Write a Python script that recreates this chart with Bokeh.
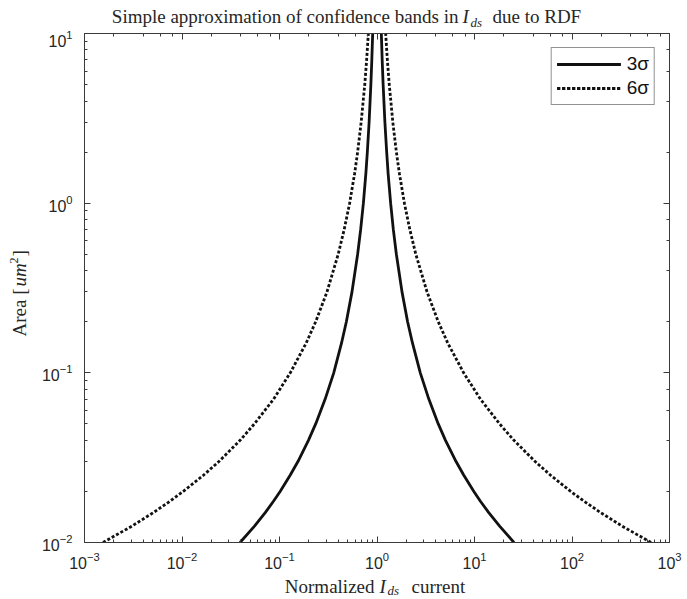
import math
from bokeh.plotting import figure
from bokeh.models import (LogAxis, Label, Legend, LegendItem, CustomJSTickFormatter,
                          Range1d, LogTicker)
from bokeh.layouts import column, row
from bokeh.embed import file_html
from bokeh.resources import INLINE

# ---- data ----
area = [0.01, 0.0125, 0.015, 0.0175, 0.02, 0.025, 0.03, 0.04, 0.05, 0.07, 0.1,
        0.15, 0.2, 0.3, 0.5, 0.7, 1.0, 1.5, 2.0, 3.0, 5.0, 7.0, 10.0]
ids_3s_high = [25.4, 18.1, 14.0, 11.5, 9.85, 7.74, 6.47, 5.04, 4.25, 3.40, 2.78,
               2.31, 2.06, 1.805, 1.58, 1.47, 1.38, 1.30, 1.257, 1.205, 1.156, 1.130, 1.108]
ids_3s_low = [0.0394, 0.0554, 0.0714, 0.0867, 0.1015, 0.129, 0.1546, 0.198, 0.235, 0.294, 0.360,
              0.433, 0.485, 0.554, 0.633, 0.680, 0.725, 0.769, 0.796, 0.830, 0.865, 0.885, 0.903]
ids_6s_high = [646, 326, 197, 133, 97.0, 59.9, 41.9, 25.4, 18.1, 11.5, 7.74,
               5.31, 4.25, 3.26, 2.50, 2.17, 1.91, 1.696, 1.58, 1.453, 1.336, 1.277, 1.227]
ids_6s_low = [0.00155, 0.00307, 0.00508, 0.00752, 0.0103, 0.0167, 0.0239, 0.0394, 0.0552, 0.0870, 0.129,
              0.188, 0.235, 0.307, 0.400, 0.461, 0.524, 0.590, 0.633, 0.688, 0.749, 0.783, 0.815]
series_labels = ["3σ", "6σ"]
x_limits = (1e-3, 1e3)
y_limits = (1e-2, 1e1)

# ---- layout geometry (canvas pixels) ----
W, H = 687, 599
TITLE_H = 30          # title strip height
YLAB_W = 30           # y-label strip width
MAIN_BOTTOM = 573     # bottom of main figure; x-label strip below
FL, FR, FT, FB = 84, 669, 33, 542   # plot frame

TXT = "#262626"
AX = "#3a3a3a"
SERIF = "Liberation Serif"


def strip(w, h):
    f = figure(width=w, height=h, x_range=Range1d(0, 1), y_range=Range1d(0, 1),
               x_axis_location=None, y_axis_location=None, toolbar_location=None,
               output_backend="svg", min_border=0)
    f.xgrid.visible = False
    f.ygrid.visible = False
    f.outline_line_color = None
    return f


def piece(f, x, y, text, size="19px", align="left", style="normal", angle=0.0):
    f.add_layout(Label(x=x, y=y, x_units="screen", y_units="screen", text=text,
                       text_align=align, text_baseline="alphabetic", text_font=SERIF,
                       text_font_size=size, text_font_style=style, text_color=TXT,
                       angle=angle))


# ---- main plot ----
main_h = MAIN_BOTTOM - TITLE_H
p = figure(width=W - YLAB_W, height=main_h, x_axis_type="log", y_axis_type="log",
           x_range=Range1d(*x_limits), y_range=Range1d(*y_limits),
           output_backend="svg", toolbar_location=None, title=None,
           min_border_left=FL - YLAB_W, min_border_right=W - FR,
           min_border_top=FT - TITLE_H, min_border_bottom=MAIN_BOTTOM - FB)
p.xgrid.visible = False
p.ygrid.visible = False
p.outline_line_color = None

bottom = p.below[0]
left = p.left[0]
top = LogAxis(ticker=LogTicker(), formatter=CustomJSTickFormatter(code="return ''"))
right = LogAxis(ticker=LogTicker(), formatter=CustomJSTickFormatter(code="return ''"))
p.add_layout(top, "above")
p.add_layout(right, "right")

for ax in [bottom, left, top, right]:
    ax.axis_line_color = AX
    ax.major_tick_line_color = AX
    ax.minor_tick_line_color = AX
    ax.major_tick_in = 6
    ax.major_tick_out = 0
    ax.minor_tick_in = 3
    ax.minor_tick_out = 0
    ax.major_label_text_font = "Liberation Sans"
    ax.major_label_text_font_size = "16px"
    ax.major_label_text_color = TXT
for ax in [top, right]:
    ax.major_label_text_font_size = "0px"
    ax.major_label_standoff = 0
bottom.major_label_standoff = 9
left.major_label_standoff = 12

LW = 2.8
r3a = p.line(ids_3s_low, area, line_color="#111111", line_width=LW)
r3b = p.line(ids_3s_high, area, line_color="#111111", line_width=LW)
r6a = p.line(ids_6s_low, area, line_color="#111111", line_width=LW, line_dash="3 2")
r6b = p.line(ids_6s_high, area, line_color="#111111", line_width=LW, line_dash="3 2")

legend = Legend(items=[LegendItem(label=series_labels[0], renderers=[r3a, r3b]),
                       LegendItem(label=series_labels[1], renderers=[r6a, r6b])],
                location="top_right")
legend.margin = 14
legend.padding = 5
legend.spacing = 2
legend.glyph_width = 64
legend.glyph_height = 20
legend.label_height = 20
legend.label_standoff = 6
legend.label_text_font = "Liberation Sans"
legend.label_text_font_size = "19px"
legend.label_text_color = "#111111"
legend.border_line_color = TXT
legend.border_line_width = 1
p.add_layout(legend)

# ---- title strip ----
t = strip(W, TITLE_H)
piece(t, 458, 14, "Simple approximation of confidence bands in", align="right")
piece(t, 462, 14, "I", style="italic")
piece(t, 470, 8.5, "ds", size="13px", style="italic")
piece(t, 492, 14, "due to RDF")

# ---- y-label strip (text reads upward) ----
yl = strip(YLAB_W, main_h)
A90 = math.pi / 2
YSHIFT = 30
def yy(cy):
    return MAIN_BOTTOM - (cy + YSHIFT)
piece(yl, 19, yy(289), "Area [", align="right", angle=A90)
piece(yl, 19, yy(287), "um", style="italic", angle=A90)
piece(yl, 13.5, yy(264), "2", size="12px", angle=A90)
piece(yl, 19, yy(257), "]", angle=A90)

# ---- x-label strip ----
xl = strip(W, H - MAIN_BOTTOM)
piece(xl, 374, 13, "Normalized", align="right")
piece(xl, 379, 13, "I", style="italic")
piece(xl, 387, 9, "ds", size="13px", style="italic")
piece(xl, 411, 13, "current")

layout = column(t, row(yl, p), xl)
open("out.html", "w").write(file_html(layout, INLINE))
